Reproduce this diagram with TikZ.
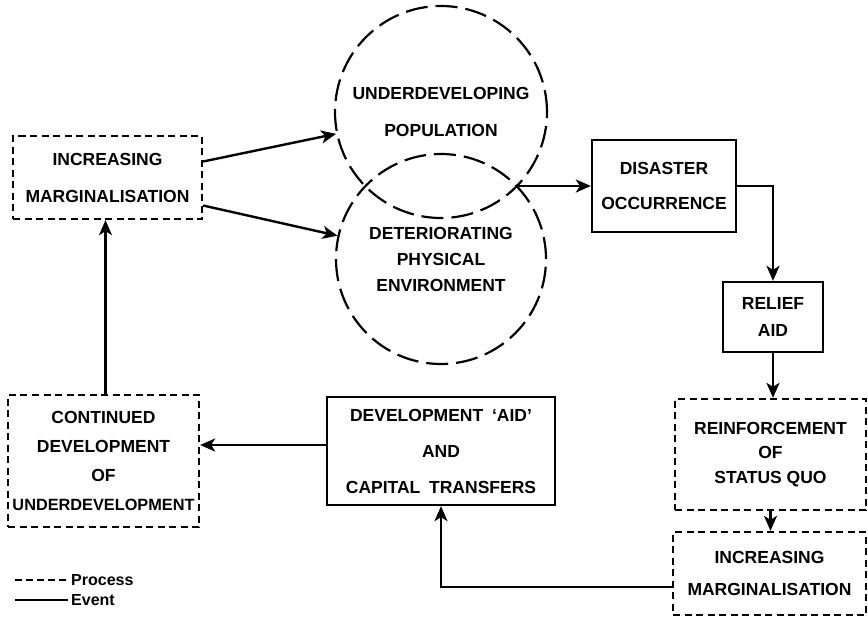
\documentclass[tikz,border=0pt]{standalone}
\usepackage{fontspec}
\setmainfont{Liberation Sans}[Ligatures=TeX]
\usetikzlibrary{arrows.meta}

\begin{document}
\begin{tikzpicture}[x=1pt,y=-1pt,
  fs/.style={font=\fontsize{17.5}{#1}\selectfont\bfseries},
  procbox/.style={draw, line width=2.3pt, dash pattern=on 7pt off 4.5pt,
    align=center, inner sep=0pt},
  eventbox/.style={draw, line width=2.3pt, align=center, inner sep=0pt},
  ring/.style={circle, draw, line width=2.2pt, dash pattern=on 22pt off 8pt,
    align=center, inner sep=0pt},
  link/.style={line width=2.4pt, -{Stealth[length=15pt,width=13pt,inset=4pt]}},
  legtext/.style={anchor=west, font=\fontsize{16}{16}\selectfont\bfseries, inner sep=3pt}
]
\useasboundingbox (0,0) rectangle (868,619);

% process boxes (dashed)
\node[procbox, fs=37, minimum width=189pt, minimum height=83pt] (im1) at (107.5,177.5)
  {INCREASING\\MARGINALISATION};
\node[procbox, fs=29, minimum width=191pt, minimum height=132pt] (cont) at (103.5,461)
  {CONTINUED\\DEVELOPMENT\\OF\\{\fontsize{16.3}{29}\selectfont UNDERDEVELOPMENT}};
\node[procbox, fs=24.5, minimum width=191pt, minimum height=111pt] (rein) at (770.5,454.5)
  {REINFORCEMENT\\OF\\STATUS QUO};
\node[procbox, fs=32, minimum width=193pt, minimum height=83pt] (im2) at (769.5,573.5)
  {INCREASING\\MARGINALISATION};

% event boxes (solid)
\node[eventbox, fs=35, minimum width=144pt, minimum height=92pt] (dis) at (664,186)
  {DISASTER\\OCCURRENCE};
\node[eventbox, fs=27, minimum width=100pt, minimum height=70pt] (rel) at (773,317)
  {RELIEF\\AID};
\node[eventbox, fs=36, minimum width=228pt, minimum height=108pt] (dev) at (441,451)
  {DEVELOPMENT\enspace `AID'\\AND\\CAPITAL\enspace TRANSFERS};

% overlapping circles
\node[ring, fs=37, minimum size=212pt] (pop) at (441,112)
  {UNDERDEVELOPING\\POPULATION};
\node[ring, fs=26, minimum size=210pt] (env) at (441,259)
  {DETERIORATING\\PHYSICAL\\ENVIRONMENT};
\coordinate (meet) at (517,186);

% connectors
\draw[link] ([yshift=16pt]im1.east) -- (pop);
\draw[link] ([yshift=-28pt]im1.east) -- (env);
\draw[link] (meet) -- (dis.west);
\draw[link] (dis.east) -| (rel.north);
\draw[link] (rel.south) -- (rel.south |- rein.north);
\draw[link] (rein.south) -- (rein.south |- im2.north);
\draw[link] ([yshift=-13.5pt]im2.west) -| (dev.south);
\draw[link] ([yshift=6pt]dev.west) -- ([yshift=6pt]dev.west -| cont.east);
\draw[link] ([xshift=2pt]cont.north) -- ([xshift=2pt]cont.north |- im1.south);

% key
\coordinate (pa) at (15,580);
\coordinate (pb) at (68,580);
\coordinate (ea) at (15,600);
\coordinate (eb) at (68,600);
\draw[line width=2pt, dash pattern=on 7pt off 4pt] (pa) -- (pb);
\draw[line width=2pt] (ea) -- (eb);
\node[legtext] (kp) at (pb) {Process};
\node[legtext] (ke) at (eb) {Event};
\end{tikzpicture}
\end{document}
